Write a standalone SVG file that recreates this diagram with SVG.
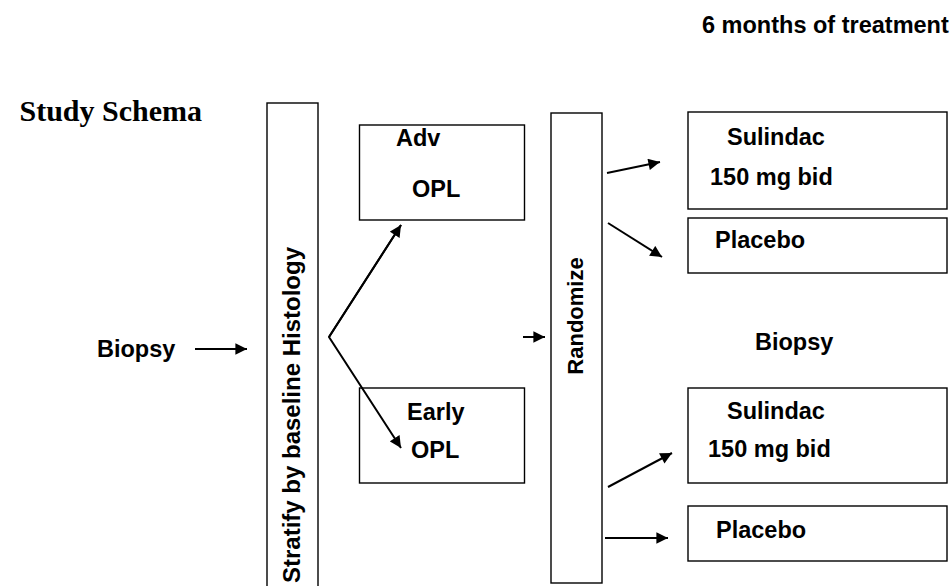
<svg xmlns="http://www.w3.org/2000/svg" width="952" height="586" viewBox="0 0 952 586">
<defs>
<style>
.box{fill:#fff;stroke:#000;stroke-width:1.4}
.t{font-family:"Liberation Sans",Arial,sans-serif;font-weight:bold;font-size:23.5px;fill:#000}
.ti{font-family:"Liberation Serif","Times New Roman",serif;font-weight:bold;font-size:30px;fill:#000}
.c{fill:none;stroke:#000;stroke-width:2}
</style>
<marker id="ah" viewBox="0 0 10 10" refX="10" refY="5" markerWidth="6.2" markerHeight="5.8" orient="auto" markerUnits="strokeWidth">
<path d="M0,0 L10,5 L0,10 z" fill="#000"/>
</marker>
</defs>
<rect width="952" height="586" fill="#fff"/>
<text class="t" x="702" y="33">6 months of treatment</text>
<text class="ti" x="202" y="121" text-anchor="end">Study Schema</text>
<g id="biopsy-start"><text class="t" x="97" y="357">Biopsy</text></g>
<g id="stratify">
<rect class="box" x="267" y="103" width="51" height="500"/>
<text class="t" transform="translate(300,415) rotate(-90)" text-anchor="middle" style="font-size:24px">Stratify by baseline Histology</text>
</g>
<g id="adv-opl">
<rect class="box" x="359.5" y="125" width="165" height="95"/>
<text class="t" x="396" y="146">Adv</text>
<text class="t" x="412" y="197">OPL</text>
</g>
<g id="early-opl">
<rect class="box" x="359.5" y="388" width="165" height="95"/>
<text class="t" x="407" y="420">Early</text>
<text class="t" x="411" y="458">OPL</text>
</g>
<g id="randomize">
<rect class="box" x="551" y="113" width="51" height="470"/>
<text class="t" transform="translate(583,316) rotate(-90)" text-anchor="middle" style="font-size:22px">Randomize</text>
</g>
<g id="sulindac-1">
<rect class="box" x="688" y="112" width="259" height="97"/>
<text class="t" x="727" y="145">Sulindac</text>
<text class="t" x="710" y="185">150 mg bid</text>
</g>
<g id="placebo-1">
<rect class="box" x="688" y="218" width="259" height="55"/>
<text class="t" x="715" y="248">Placebo</text>
</g>
<g id="biopsy-end"><text class="t" x="755" y="350">Biopsy</text></g>
<g id="sulindac-2">
<rect class="box" x="688" y="388" width="259" height="95"/>
<text class="t" x="727" y="419">Sulindac</text>
<text class="t" x="708" y="457">150 mg bid</text>
</g>
<g id="placebo-2">
<rect class="box" x="688" y="506" width="259" height="55"/>
<text class="t" x="716" y="538">Placebo</text>
</g>
<g id="connectors">
<line class="c" x1="195" y1="349" x2="247" y2="349" marker-end="url(#ah)"/>
<polyline class="c" points="401,225 329,337 401,448" marker-end="url(#ah)"/>
<line class="c" x1="329" y1="337" x2="401" y2="225" marker-end="url(#ah)"/>
<line class="c" x1="523" y1="337" x2="545" y2="337" marker-end="url(#ah)"/>
<line class="c" x1="607" y1="173" x2="660" y2="162" marker-end="url(#ah)"/>
<line class="c" x1="608" y1="223" x2="662" y2="257" marker-end="url(#ah)"/>
<line class="c" x1="608" y1="487" x2="672" y2="453" marker-end="url(#ah)"/>
<line class="c" x1="605" y1="538" x2="668" y2="538" marker-end="url(#ah)"/>
</g>
</svg>
